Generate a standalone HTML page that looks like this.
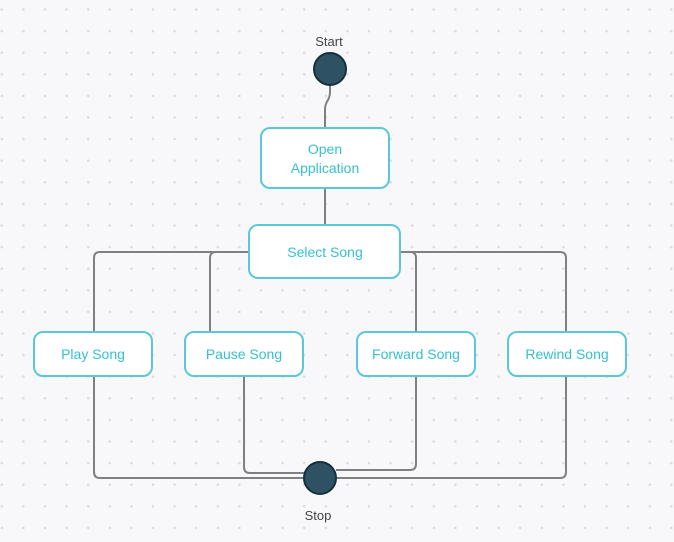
<!DOCTYPE html>
<html><head><meta charset="utf-8"><style>
html,body{margin:0;padding:0;width:674px;height:542px;overflow:hidden;background:#f8f8fa}
svg{display:block}
text{font-family:"Liberation Sans",sans-serif}
</style></head><body>
<svg width="674" height="542" viewBox="0 0 674 542" xmlns="http://www.w3.org/2000/svg">
<defs>
<pattern id="d" x="-9" y="-1.3" width="21.6" height="21.6" patternUnits="userSpaceOnUse">
<circle cx="10.8" cy="10.8" r="1.3" fill="#dcdce0"/>
</pattern>
</defs>
<rect width="674" height="542" fill="url(#d)"/>
<g fill="none" stroke="#808080" stroke-width="2">
<path d="M330 85 L330 92 Q330 96 328 100 Q325 104 325 110 L325 128"/>
<path d="M325 188 L325 225"/>
<path d="M249 252 L100 252 Q94 252 94 258 L94 332"/>
<path d="M249 252 L216 252 Q210 252 210 258 L210 332"/>
<path d="M400 252 L410 252 Q416 252 416 258 L416 332"/>
<path d="M400 252 L560 252 Q566 252 566 258 L566 332"/>
<path d="M94 376 L94 472 Q94 478 100 478 L304 478"/>
<path d="M244 376 L244 467 Q244 473 250 473 L304 473"/>
<path d="M416 376 L416 464 Q416 470 410 470 L336 470"/>
<path d="M566 376 L566 472 Q566 478 560 478 L336 478"/>
</g>
<g fill="#fff" stroke="#5bc8d8" stroke-width="2">
<rect x="261" y="128" width="128" height="60" rx="9"/>
<rect x="249" y="225" width="151" height="53" rx="9"/>
<rect x="34" y="332" width="118" height="44" rx="9"/>
<rect x="185" y="332" width="118" height="44" rx="9"/>
<rect x="357" y="332" width="118" height="44" rx="9"/>
<rect x="508" y="332" width="118" height="44" rx="9"/>
</g>
<g fill="#35c0d2" font-size="14" text-anchor="middle">
<text x="325" y="154">Open</text>
<text x="325" y="173">Application</text>
<text x="325" y="257">Select Song</text>
<text x="93" y="359">Play Song</text>
<text x="244" y="359">Pause Song</text>
<text x="416" y="359">Forward Song</text>
<text x="567" y="359">Rewind Song</text>
</g>
<circle cx="330" cy="69" r="16" fill="#2e5163" stroke="#14303d" stroke-width="2"/>
<circle cx="320" cy="478" r="16" fill="#2e5163" stroke="#14303d" stroke-width="2"/>
<g fill="#444" font-size="13" text-anchor="middle">
<text x="329" y="46">Start</text>
<text x="318" y="520">Stop</text>
</g>
</svg>
</body></html>
